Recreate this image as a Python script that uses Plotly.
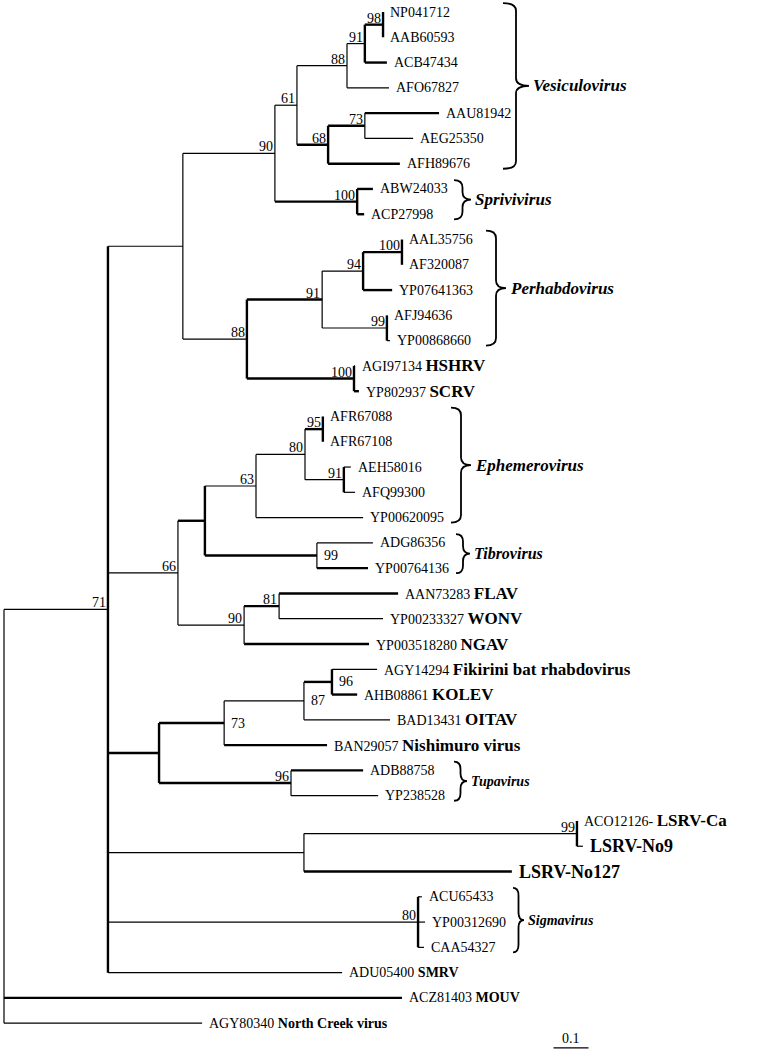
"""Rhabdovirus phylogeny (neighbour-joining style) with bootstrap support and genus braces."""

import plotly.graph_objects as go

# ---- leaves, top to bottom -------------------------------------------------
leaf_acc = [
    "NP041712", "AAB60593", "ACB47434", "AFO67827", "AAU81942", "AEG25350",
    "AFH89676", "ABW24033", "ACP27998", "AAL35756", "AF320087", "YP07641363",
    "AFJ94636", "YP00868660", "AGI97134", "YP802937", "AFR67088", "AFR67108",
    "AEH58016", "AFQ99300", "YP00620095", "ADG86356", "YP00764136", "AAN73283",
    "YP00233327", "YP003518280", "AGY14294", "AHB08861", "BAD13431", "BAN29057",
    "ADB88758", "YP238528", "ACO12126-", "", "", "ACU65433", "YP00312690",
    "CAA54327", "ADU05400", "ACZ81403", "AGY80340",
]
leaf_name = [
    "", "", "", "", "", "", "", "", "", "", "", "", "", "", "HSHRV", "SCRV",
    "", "", "", "", "", "", "", "FLAV", "WONV", "NGAV",
    "Fikirini bat rhabdovirus", "KOLEV", "OITAV", "Nishimuro virus", "", "",
    "LSRV-Ca", "LSRV-No9", "LSRV-No127", "", "", "", "SMRV", "MOUV",
    "North Creek virus",
]
leaf_parent = [
    "n98", "n98", "n91v", "n88v", "n73v", "n73v", "n68", "n100s", "n100s",
    "n100p", "n100p", "n94", "n99p", "n99p", "n100h", "n100h", "n95", "n95",
    "n91e", "n91e", "n63", "n99t", "n99t", "n81", "n81", "n90f", "n96f", "n96f",
    "n87", "n73f", "n96t", "n96t", "n99L", "n99L", "nL", "n80s", "n80s", "n80s",
    "n71", "root", "root",
]
# distance from root (substitutions/site)
leaf_depth = [
    1.083, 1.083, 1.094, 1.100, 1.243, 1.169, 1.131, 1.054, 1.029, 1.137,
    1.137, 1.109, 1.094, 1.103, 1.003, 1.014, 0.911, 0.911, 0.991, 1.003,
    1.026, 1.054, 1.040, 1.126, 1.083, 1.043, 1.066, 1.009, 1.103, 0.923,
    1.026, 1.069, 1.637, 1.654, 1.451, 1.194, 1.203, 1.200, 0.966, 1.137,
    0.566,
]

# ---- internal nodes (preorder) ---------------------------------------------
node_id = [
    "root", "n71", "nA", "n90", "n61", "n88v", "n91v", "n98", "n68", "n73v",
    "n100s", "n88p", "n91p", "n94", "n100p", "n99p", "n100h", "n66", "nTE",
    "n63", "n80", "n95", "n91e", "n99t", "n90f", "n81", "n159", "n73f", "n87",
    "n96f", "n96t", "nL", "n99L", "n80s",
]
node_parent = [
    None, "root", "n71", "nA", "n90", "n61", "n88v", "n91v", "n61", "n68",
    "n90", "nA", "n88p", "n91p", "n94", "n91p", "n88p", "n71", "n66",
    "nTE", "n63", "n80", "n80", "nTE", "n66", "n90f", "n71", "n159", "n73f",
    "n87", "n159", "n71", "nL", "n71",
]
node_depth = [
    0.000, 0.297, 0.511, 0.774, 0.837, 0.980, 1.031, 1.083, 0.926, 1.031,
    1.009, 0.694, 0.909, 1.026, 1.137, 1.094, 1.000, 0.497, 0.574,
    0.720, 0.860, 0.911, 0.971, 0.894, 0.686, 0.786, 0.443, 0.629, 0.857,
    0.937, 0.820, 0.857, 1.637, 1.183,
]
node_support = [
    None, 71, None, 90, 61, 88, 91, 98, 68, 73,
    100, 88, 91, 94, 100, 99, 100, 66, None,
    63, 80, 95, 91, 99, 90, 81, None, 73, 87,
    96, 96, None, 99, 80,
]

genus = ["Vesiculovirus", "Sprivivirus", "Perhabdovirus", "Ephemerovirus",
         "Tibrovirus", "Tupavirus", "Sigmavirus"]
genus_first = [0, 7, 9, 16, 21, 30, 35]
genus_last = [6, 8, 13, 20, 22, 31, 37]

# ---- styling ---------------------------------------------------------------
FONT = "Liberation Serif, Times New Roman, DejaVu Serif, serif"
PX = 350.0            # pixels per unit branch length
ROW = 25.28           # pixels per leaf row
THIN, THICK = 1.2, 2.4
bold_h = {"n98", "n73v", "n68", "n100s", "n91p", "n100p", "n100h", "nTE",
          "n95", "n99t", "n81", "n159", "n73f", "n96f", "n96t",
          2, 4, 6, 7, 8, 11, 15, 22, 23, 25, 27, 29, 30, 34, 39}
bold_v = {"n98", "n91v", "n68", "n100s", "n88p", "n94", "n100p", "n99p",
          "n100h", "nTE", "n95", "n91e", "n159", "n96f", "n99L", "n80s", "n71"}
support_right = {"n73f", "n87", "n96f", "n99t"}
name_size = {"SMRV": 14, "MOUV": 14, "North Creek virus": 14,
             "LSRV-No9": 18, "LSRV-No127": 18}
# brace left edge (px), width (px), label size
brace_style = {
    "Vesiculovirus": (503, 26, 17), "Sprivivirus": (454, 17, 17),
    "Perhabdovirus": (486, 20, 17), "Ephemerovirus": (451, 20, 17),
    "Tibrovirus": (456, 14, 16), "Tupavirus": (454, 13, 14),
    "Sigmavirus": (513, 11, 14),
}
base_font = dict(family=FONT, size=14, color="black")

# ---- layout of the tree ----------------------------------------------------
depth, ypos, children = {}, {}, {n: [] for n in node_id}
for i, (p, d) in enumerate(zip(leaf_parent, leaf_depth)):
    depth[i], ypos[i] = d, float(i)
    children[p].append(i)
for n, p, d in zip(node_id, node_parent, node_depth):
    depth[n] = d
    if p:
        children[p].append(n)
parent = dict(zip(node_id, node_parent))
parent.update({i: p for i, p in enumerate(leaf_parent)})
for n in reversed(node_id):
    ys = [ypos[c] for c in children[n]]
    ypos[n] = (min(ys) + max(ys)) / 2

segs = {THIN: ([], []), THICK: ([], [])}


def seg(x0, y0, x1, y1, bold):
    xs, ys = segs[THICK if bold else THIN]
    xs += [x0, x1, None]
    ys += [y0, y1, None]


for n in list(range(len(leaf_acc))) + node_id:
    p = parent[n]
    if p is not None:
        seg(depth[p], ypos[n], depth[n], ypos[n], n in bold_h)
for n in node_id:
    ys = [ypos[c] for c in children[n]]
    seg(depth[n], min(ys), depth[n], max(ys), n in bold_v)

fig = go.Figure()
for w, (xs, ys) in segs.items():
    fig.add_trace(go.Scatter(x=xs, y=ys, mode="lines", hoverinfo="skip",
                             line=dict(color="black", width=w)))

ann = []
for i, (acc, name) in enumerate(zip(leaf_acc, leaf_name)):
    parts = []
    if acc:
        parts.append(acc)
    if name:
        sz = name_size.get(name, 17)
        parts.append(f"<span style='font-size:{sz}px'><b>{name}</b></span>")
    ann.append(dict(x=depth[i], y=i, text=" ".join(parts), xanchor="left",
                    yanchor="middle", xshift=5, showarrow=False, font=base_font))

for n, s in zip(node_id, node_support):
    if s is None:
        continue
    if n in support_right:
        ann.append(dict(x=depth[n], y=ypos[n], text=str(s), xanchor="left",
                        yanchor="middle", xshift=5, showarrow=False, font=base_font))
    else:
        ann.append(dict(x=depth[n], y=ypos[n], text=str(s), xanchor="right",
                        yanchor="bottom", xshift=0, yshift=-3, showarrow=False,
                        font=base_font))

shapes = []
for g, a, b in zip(genus, genus_first, genus_last):
    x0px, wpx, fs = brace_style[g]
    x0 = (x0px - 4) / PX
    xm = x0 + wpx * 0.5 / PX
    xt = x0 + wpx / PX
    ya, yb = a - 0.35, b + 0.2
    ym = (ya + yb) / 2
    r = 0.3
    path = (f"M {x0},{ya} Q {xm},{ya} {xm},{ya + r} L {xm},{ym - r} "
            f"Q {xm},{ym} {xt},{ym} Q {xm},{ym} {xm},{ym + r} "
            f"L {xm},{yb - r} Q {xm},{yb} {x0},{yb}")
    shapes.append(dict(type="path", path=path, xref="x", yref="y",
                       line=dict(color="black", width=1.8)))
    ann.append(dict(x=xt, y=ym, text=f"<b><i>{g}</i></b>", xanchor="left",
                    yanchor="middle", xshift=2, showarrow=False,
                    font=dict(family=FONT, size=fs, color="black")))

# scale bar
scale_x, scale_len, scale_row = 1.57, 0.1, 40.98
fig.add_trace(go.Scatter(x=[scale_x, scale_x + scale_len], y=[scale_row, scale_row],
                         mode="lines", hoverinfo="skip",
                         line=dict(color="black", width=1.2)))
ann.append(dict(x=scale_x + scale_len / 2, y=scale_row, text="0.1",
                xanchor="center", yanchor="bottom", yshift=0, showarrow=False,
                font=base_font))

fig.update_layout(
    width=757, height=1053,
    margin=dict(l=0, r=0, t=0, b=0),
    paper_bgcolor="white", plot_bgcolor="white",
    showlegend=False,
    font=base_font,
    annotations=ann, shapes=shapes,
    xaxis=dict(range=[-4 / PX, 753 / PX], visible=False, fixedrange=True),
    yaxis=dict(range=[(1053 - 12) / ROW, -12 / ROW], visible=False, fixedrange=True),
)
fig.write_html("out.html", post_script="document.body.style.margin='0';",
               config={"displayModeBar": False})
